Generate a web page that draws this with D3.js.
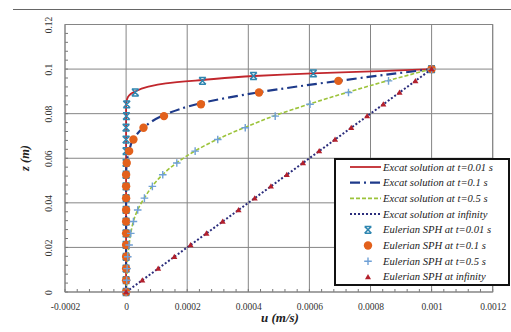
<!DOCTYPE html>
<html><head><meta charset="utf-8">
<script src="https://cdn.jsdelivr.net/npm/d3@7"></script>
<style>body{margin:0;background:#fff}svg{display:block}</style>
</head><body><svg id="c" width="511" height="332"></svg>
<script>
// ---- data ----
const xTicks = [-0.0002, 0, 0.0002, 0.0004, 0.0006, 0.0008, 0.001, 0.0012];
const xTickLabels = ["-0.0002","0","0.0002","0.0004","0.0006","0.0008","0.001","0.0012"];
const yTicks = [0, 0.02, 0.04, 0.06, 0.08, 0.1, 0.12];
const yTickLabels = ["0","0.02","0.04","0.06","0.08","0.1","0.12"];

// exact solutions (u, z)
const exact001U = [0, 0, 0.000003, 0.00001, 0.00003, 0.00007, 0.00013, 0.00025, 0.00042, 0.00061, 0.00083, 0.001];
const exact001Z = [0, 0.084, 0.0865, 0.0882, 0.0900, 0.0920, 0.0936, 0.0951, 0.0969, 0.0981, 0.0991, 0.1];
const exact01U = [0, 0, 0.000002, 0.00001, 0.000024, 0.000057, 0.000124, 0.000245, 0.000435, 0.000695, 0.001];
const exact01Z = [0, 0.052, 0.058, 0.0634, 0.0686, 0.0737, 0.0794, 0.0847, 0.0896, 0.0947, 0.1];
const exact05U = [0, 0.000002, 0.0000035, 0.0000055, 0.0000098, 0.0000153, 0.000024, 0.000038, 0.00006, 0.000086, 0.00012, 0.000166, 0.000226, 0.0003, 0.00039, 0.000488, 0.000602, 0.000728, 0.000859, 0.001];
const exact05Z = [0, 0.0054, 0.0106, 0.0158, 0.0211, 0.0264, 0.0317, 0.0369, 0.0422, 0.0475, 0.0527, 0.058, 0.0633, 0.0686, 0.0739, 0.0792, 0.0844, 0.0897, 0.0949, 0.1];
const exactInfU = [0, 0.001];
const exactInfZ = [0, 0.1];

// Eulerian SPH particles
const sphZ = [0, 0.0053, 0.0105, 0.0158, 0.0211, 0.0263, 0.0316, 0.0368, 0.0421, 0.0474, 0.0526, 0.0579, 0.0632, 0.0684, 0.0737, 0.0789, 0.0842, 0.0895, 0.0947, 0.1];
const sph001U = [0, 0, 0, 0, 0, 0, 0, 0, 0, 0, 0, 0, 0, 0, 0, 0.000001, 0.000002, 0.00003, 0.00025, 0.001];
const sph001ExtraU = [0.000417, 0.000613];
const sph001ExtraZ = [0.0969, 0.0981];
const sph01U = [0, 0, 0, 0, 0, 0, 0, 0, 0, 0, 0, 0.000002, 0.00001, 0.000024, 0.000057, 0.000124, 0.000245, 0.000435, 0.000695, 0.001];
const sph05U = [0, 0.000002, 0.0000033, 0.0000055, 0.0000098, 0.0000153, 0.000024, 0.000038, 0.00006, 0.000086, 0.00012, 0.000166, 0.000226, 0.0003, 0.00039, 0.000488, 0.000602, 0.000728, 0.000859, 0.001];
const sphInfU = [0, 0.000053, 0.000105, 0.000158, 0.000211, 0.000263, 0.000316, 0.000368, 0.000421, 0.000474, 0.000526, 0.000579, 0.000632, 0.000684, 0.000737, 0.000789, 0.000842, 0.000895, 0.000947, 0.001];

const legendLabels = ["Excat solution at t=0.01 s","Excat solution at t=0.1 s","Excat solution at t=0.5 s","Excat solution at infinity",
  "Eulerian SPH at t=0.01 s","Eulerian SPH at t=0.1 s","Eulerian SPH at t=0.5 s","Eulerian SPH at infinity"];

// ---- drawing ----
const svg = d3.select("#c");
const L = 65, R = 492.7, T = 24.5, B = 292;
const x = d3.scaleLinear().domain([-0.0002, 0.0012]).range([L, R]);
const y = d3.scaleLinear().domain([0, 0.12]).range([B, T]);
const serif = "'Liberation Serif','Times New Roman',serif";

svg.append("rect").attr("width",511).attr("height",332).attr("fill","#fff");
svg.append("line").attr("x1",13).attr("x2",511).attr("y1",9.5).attr("y2",9.5).attr("stroke","#666").attr("stroke-width",1.2);

// grid
const g = svg.append("g");
g.selectAll(".vg").data(xTicks).join("line").attr("x1",d=>x(d)).attr("x2",d=>x(d)).attr("y1",T).attr("y2",B)
  .attr("stroke","#858585").attr("stroke-width",1);
g.selectAll(".hg").data(yTicks).join("line").attr("x1",L).attr("x2",R).attr("y1",d=>y(d)).attr("y2",d=>y(d))
  .attr("stroke","#858585").attr("stroke-width",1);

// axes
const xAxis = d3.axisBottom(x).tickValues(xTicks).tickFormat((d,i)=>xTickLabels[i]).tickSize(0).tickPadding(11);
const yAxis = d3.axisLeft(y).tickValues(yTicks).tickFormat((d,i)=>yTickLabels[i]).tickSize(0);
const xa = svg.append("g").attr("transform",`translate(0,${B})`).call(xAxis);
xa.select(".domain").remove();
xa.selectAll("text").attr("font-family",serif).attr("font-size",9.5).attr("fill","#333");
const ya = svg.append("g").attr("transform",`translate(${L},0)`).call(yAxis);
ya.select(".domain").remove();
ya.selectAll("text").attr("font-family",serif).attr("font-size",9.5).attr("fill","#333")
  .attr("text-anchor","middle").attr("x",0).attr("dy",0)
  .attr("transform","translate(-13,0) rotate(-90)");
// minor ticks
const xMinor = d3.range(-0.0002, 0.00121, 0.00004);
svg.append("g").selectAll("line").data(xMinor).join("line").attr("x1",d=>x(d)).attr("x2",d=>x(d))
  .attr("y1",B).attr("y2",B-3).attr("stroke","#777");
const yMinor = d3.range(0, 0.1201, 0.004);
svg.append("g").selectAll("line").data(yMinor).join("line").attr("x1",L).attr("x2",L+3)
  .attr("y1",d=>y(d)).attr("y2",d=>y(d)).attr("stroke","#777");
svg.append("rect").attr("x",L).attr("y",T).attr("width",R-L).attr("height",B-T).attr("fill","none").attr("stroke","#858585");

// titles
svg.append("text").attr("transform",`translate(29,158) rotate(-90)`).attr("text-anchor","middle")
  .attr("font-family",serif).attr("font-weight","bold").attr("font-style","italic").attr("font-size",12.5).attr("fill","#222").text("z (m)");
svg.append("text").attr("x",280).attr("y",322).attr("text-anchor","middle")
  .attr("font-family",serif).attr("font-weight","bold").attr("font-style","italic").attr("font-size",13).attr("fill","#222").text("u (m/s)");

// styles
const styles = [
  {stroke:"#c1272d", width:1.8, dash:null},
  {stroke:"#1e3a8a", width:2.2, dash:"10,4,2,4"},
  {stroke:"#9cc33a", width:1.6, dash:"4,2"},
  {stroke:"#2b2d7c", width:2, dash:"2,2"}
];
const line = d3.line().x(d=>x(d[0])).y(d=>y(d[1])).curve(d3.curveMonotoneY);
const exactSets = [[exact001U,exact001Z],[exact01U,exact01Z],[exact05U,exact05Z],[exactInfU,exactInfZ]];
exactSets.forEach((s,i)=>{
  const pts = s[0].map((u,k)=>[u,s[1][k]]);
  svg.append("path").attr("d",line(pts)).attr("fill","none").attr("stroke",styles[i].stroke)
    .attr("stroke-width",styles[i].width).attr("stroke-dasharray",styles[i].dash);
});

// markers
function starX(sel, cx, cy){
  const s=3.4;
  sel.append("path").attr("d",`M${cx-s},${cy-s}L${cx+s},${cy+s}M${cx+s},${cy-s}L${cx-s},${cy+s}M${cx-s},${cy-s}L${cx+s},${cy-s}M${cx-s},${cy+s}L${cx+s},${cy+s}`)
    .attr("stroke","#2f86b0").attr("stroke-width",1.5).attr("fill","none");
}
function circ(sel, cx, cy){ sel.append("circle").attr("cx",cx).attr("cy",cy).attr("r",4.2).attr("fill","#e2611c"); }
function plus(sel, cx, cy){
  const s=3.8;
  sel.append("path").attr("d",`M${cx-s},${cy}L${cx+s},${cy}M${cx},${cy-s}L${cx},${cy+s}`)
    .attr("stroke","#6fa0d6").attr("stroke-width",1.4);
}
function tri(sel, cx, cy){
  sel.append("path").attr("d",d3.symbol(d3.symbolTriangle,16)()).attr("transform",`translate(${cx},${cy+0.5})`).attr("fill","#b3202c");
}
const mk = svg.append("g");
sphZ.forEach((z,i)=>starX(mk, x(sph001U[i]), y(z)));
sph001ExtraZ.forEach((z,i)=>starX(mk, x(sph001ExtraU[i]), y(z)));
sphZ.forEach((z,i)=>circ(mk, x(sph01U[i]), y(z)));
sphZ.forEach((z,i)=>plus(mk, x(sph05U[i]), y(z)));
sphZ.forEach((z,i)=>tri(mk, x(sphInfU[i]), y(z)));

// legend
const lg = svg.append("g");
lg.append("rect").attr("x",335).attr("y",159).attr("width",174).attr("height",126).attr("fill","#fff")
  .attr("stroke","#111").attr("stroke-width",2);
const rowY = d => 167 + d*15.7;
legendLabels.forEach((t,i)=>{
  const yy = rowY(i);
  if(i<4){
    lg.append("line").attr("x1",350).attr("x2",381).attr("y1",yy).attr("y2",yy)
      .attr("stroke",styles[i].stroke).attr("stroke-width",styles[i].width).attr("stroke-dasharray",styles[i].dash);
  } else {
    [starX,circ,plus,tri][i-4](lg, 368, yy);
  }
  lg.append("text").attr("x",383).attr("y",yy+3.5).attr("font-family",serif).attr("font-style","italic")
    .attr("font-size",10.6).attr("fill","#222").text(t);
});
</script></body></html>
